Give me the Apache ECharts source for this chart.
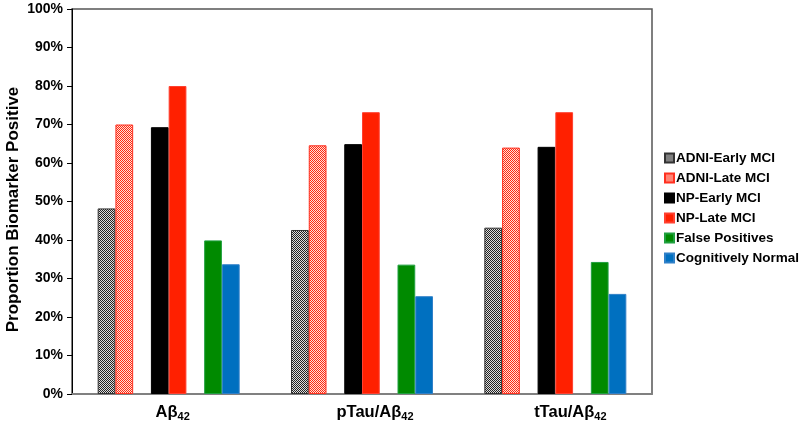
<!DOCTYPE html>
<html>
<head>
<meta charset="utf-8">
<script src="https://cdn.jsdelivr.net/npm/echarts@6/dist/echarts.min.js"></script>
<style>
  html, body { margin: 0; padding: 0; background: #fff; }
  #chart { width: 800px; height: 427px; }
</style>
</head>
<body>
<div id="chart"></div>
<script>
// 数据
const categories = ['Aβ42', 'pTau/Aβ42', 'tTau/Aβ42'];
const yTicks = [0, 10, 20, 30, 40, 50, 60, 70, 80, 90, 100];
const adniEarly = [48.2, 42.6, 43.2];
const adniLate = [70.0, 64.6, 64.0];
const npEarly = [69.3, 64.9, 64.2];
const npLate = [80.0, 73.2, 73.2];
const falsePos = [39.9, 33.6, 34.3];
const cogNormal = [33.7, 25.4, 26.0];

// 棋盘格填充
const checker = (c1, c2) => {
  const cv = document.createElement('canvas');
  cv.width = 2; cv.height = 2;
  const ctx = cv.getContext('2d');
  ctx.fillStyle = c2; ctx.fillRect(0, 0, 2, 2);
  ctx.fillStyle = c1; ctx.fillRect(0, 0, 1, 1); ctx.fillRect(1, 1, 1, 1);
  return { image: cv, repeat: 'repeat' };
};

const font = 'Liberation Sans, Arial, sans-serif';
const myChart = echarts.init(document.getElementById('chart'));

const bar = (name, data, color, border) => ({
  name: name,
  type: 'bar',
  data: data,
  barWidth: 17.75,
  barGap: '0%',
  itemStyle: { color: color, borderColor: border, borderWidth: 1 },
});
const spacer = () => ({ type: 'bar', data: [null, null, null], barWidth: 17.75, barGap: '0%', silent: true });

const option = {
  animation: false,
  grid: {
    left: 72, right: 148, top: 9, bottom: 33,
    outerBoundsMode: 'none',
    show: true, borderColor: '#555', borderWidth: 1.5,
  },
  legend: {
    orient: 'vertical',
    left: 659, top: 146,
    itemWidth: 9, itemHeight: 9, itemGap: 6,
    icon: 'rect',
    data: ['ADNI-Early MCI', 'ADNI-Late MCI', 'NP-Early MCI', 'NP-Late MCI', 'False Positives', 'Cognitively Normal'],
    textStyle: { fontFamily: font, fontWeight: 'bold', fontSize: 13.5, color: '#000', padding: [0, 0, 0, -3] },
  },
  xAxis: {
    type: 'category',
    data: categories,
    axisLine: { lineStyle: { color: '#808080', width: 2 } },
    axisTick: { show: false },
    axisLabel: {
      margin: 9,
      // 标签略微右移，与原图一致
      formatter: (v, i) => '{p' + i + '|}{m|' + v.slice(0, -2) + '}{s|' + v.slice(-2) + '}',
      rich: {
        p0: { width: 8 },
        p1: { width: 26 },
        p2: { width: 30 },
        m: { fontFamily: font, fontWeight: 'bold', fontSize: 16.5, color: '#000' },
        s: { fontFamily: font, fontWeight: 'bold', fontSize: 11, color: '#000', padding: [8, 0, 0, 0] },
      },
    },
  },
  yAxis: {
    type: 'value',
    min: 0, max: 100, interval: 10,
    name: 'Proportion Biomarker Positive',
    nameLocation: 'middle',
    nameGap: 50,
    nameMoveOverlap: false,
    nameTextStyle: { fontFamily: font, fontWeight: 'bold', fontSize: 17, color: '#000', padding: [0, 16, 0, 0] },
    axisLine: { show: true, lineStyle: { color: '#000', width: 1 } },
    axisTick: { show: true, length: 5, lineStyle: { color: '#000' } },
    splitLine: { show: false },
    axisLabel: {
      margin: 9,
      fontFamily: font, fontWeight: 'bold', fontSize: 14, color: '#000',
      formatter: (v) => (yTicks.includes(v) ? v + '%' : ''),
    },
  },
  series: [
    bar('ADNI-Early MCI', adniEarly, checker('#222', '#ddd'), '#333'),
    bar('ADNI-Late MCI', adniLate, checker('#ff2a10', '#ffe0da'), '#ff3020'),
    spacer(),
    bar('NP-Early MCI', npEarly, '#000', '#000'),
    bar('NP-Late MCI', npLate, '#ff2000', '#ff4030'),
    spacer(),
    bar('False Positives', falsePos, '#008a00', '#20a040'),
    bar('Cognitively Normal', cogNormal, '#0070c0', '#3080c8'),
  ],
};
myChart.setOption(option);
</script>
</body>
</html>
